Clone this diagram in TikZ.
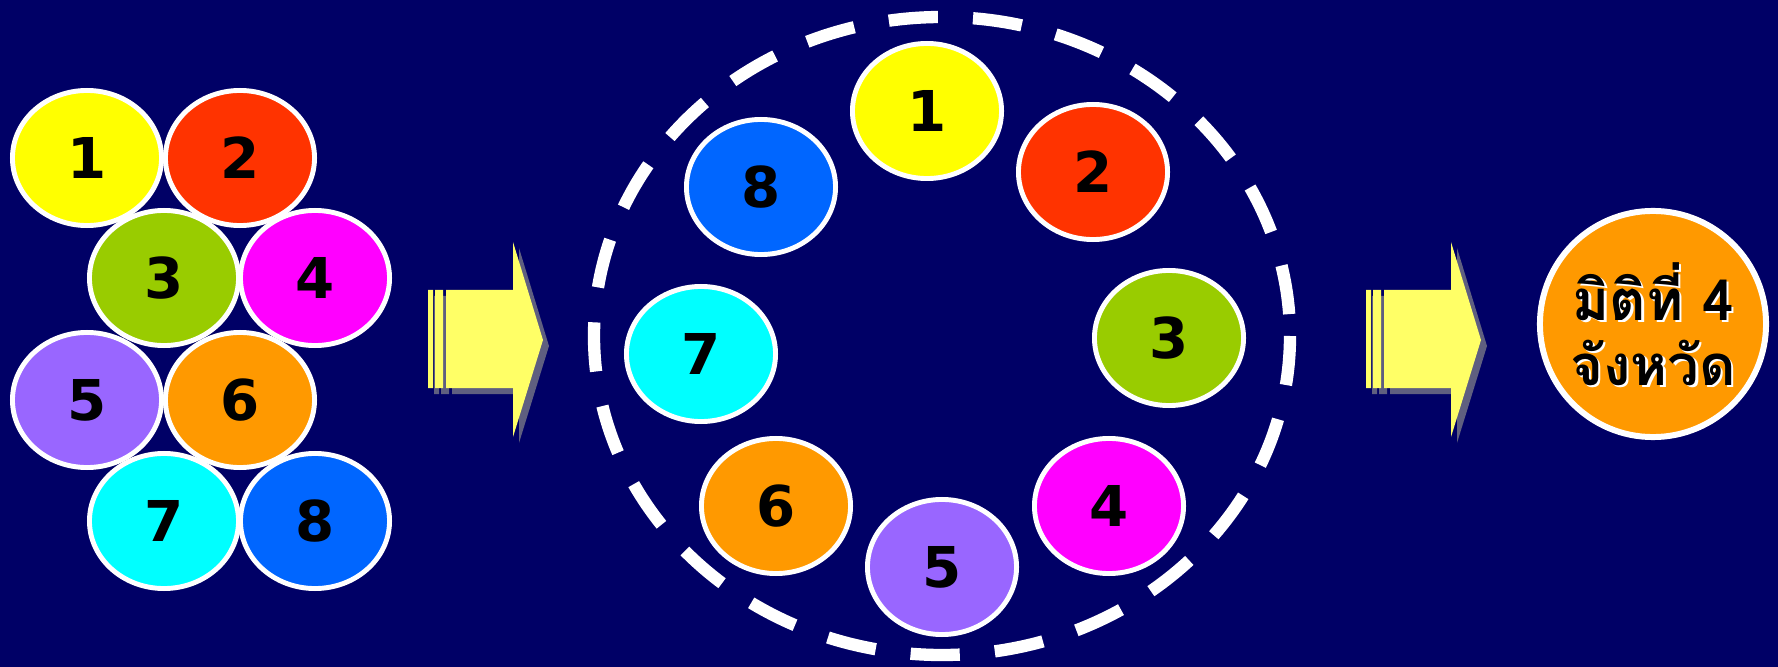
\documentclass[tikz,border=0pt]{standalone}
\usepackage{fontspec}
\setmainfont{DejaVu Sans}
\newfontfamily\thaifont[Script=Thai]{Loma}
\usepackage{tikz}
\usetikzlibrary{shapes.geometric,positioning}

\definecolor{bgnavy}{HTML}{000066}
\definecolor{cyellow}{HTML}{FFFF00}
\definecolor{cred}{HTML}{FF3300}
\definecolor{cgreen}{HTML}{99CC00}
\definecolor{cmagenta}{HTML}{FF00FF}
\definecolor{cpurple}{HTML}{9966FF}
\definecolor{corange}{HTML}{FF9900}
\definecolor{ccyan}{HTML}{00FFFF}
\definecolor{cblue}{HTML}{0066FF}
\definecolor{arrowfill}{HTML}{FFFF66}
\definecolor{arrowshade}{HTML}{5F5F80}

\begin{document}
\begin{tikzpicture}[
    x=0.01cm, y=-0.01cm,
    ball/.style={ellipse, draw=white, line width=1.4pt, minimum width=1.49cm, minimum height=1.35cm, inner sep=0pt, font=\bfseries\fontsize{16}{16}\selectfont},
    ring/.style={draw=white, line width=3.5pt, dash pattern=on 14pt off 10pt},
    thaitext/.style={align=center, font=\thaifont\bfseries\fontsize{16}{18.5}\selectfont}
]
% Background
\fill[bgnavy] (0,0) rectangle (1778,667);

% Loose group
\node[ball, fill=cyellow]  (l1) at (87,158) {1};
\node[ball, fill=cred]     (l2) at (240,158) {2};
\node[ball, fill=cgreen]   (l3) at (164,278) {3};
\node[ball, fill=cmagenta] (l4) at (315,278) {4};
\node[ball, fill=cpurple]  (l5) at (87,400) {5};
\node[ball, fill=corange]  (l6) at (240,400) {6};
\node[ball, fill=ccyan]    (l7) at (164,521) {7};
\node[ball, fill=cblue]    (l8) at (315,521) {8};

% First arrow
\fill[arrowshade, shift={(6,6)}] (428,290) rectangle (433,388) (435,290) rectangle (443,388)
    (446,290) -- (513,290) -- (513,242) -- (543,340) -- (513,437) -- (513,388) -- (446,388) -- cycle;
\fill[arrowfill] (428,290) rectangle (433,388) (435,290) rectangle (443,388)
    (446,290) -- (513,290) -- (513,242) -- (543,340) -- (513,437) -- (513,388) -- (446,388) -- cycle;

% Ring
\coordinate (hub) at (942,336);
\draw[ring] (hub) ellipse [x radius=348, y radius=319];
\node[ball, fill=cyellow]  (c1) at (927,111) {1};
\node[ball, fill=cred]     (c2) at (1093,172) {2};
\node[ball, fill=cgreen]   (c3) at (1169,338) {3};
\node[ball, fill=cmagenta] (c4) at (1109,506) {4};
\node[ball, fill=cpurple]  (c5) at (942,567) {5};
\node[ball, fill=corange]  (c6) at (776,506) {6};
\node[ball, fill=ccyan]    (c7) at (701,354) {7};
\node[ball, fill=cblue]    (c8) at (761,187) {8};

% Second arrow
\begin{scope}[shift={(938,0)}]
\fill[arrowshade, shift={(6,6)}] (428,290) rectangle (433,388) (435,290) rectangle (443,388)
    (446,290) -- (513,290) -- (513,242) -- (543,340) -- (513,437) -- (513,388) -- (446,388) -- cycle;
\fill[arrowfill] (428,290) rectangle (433,388) (435,290) rectangle (443,388)
    (446,290) -- (513,290) -- (513,242) -- (543,340) -- (513,437) -- (513,388) -- (446,388) -- cycle;
\end{scope}

% Result
\node[circle, draw=white, line width=1.7pt, fill=corange, minimum size=2.26cm, inner sep=0pt] (dim) at (1653,324) {};
\node[thaitext, text=white] (dimshade) at ([shift={(2.5,2.5)}]dim.center) {มิติที่ 4\\จังหวัด};
\node[thaitext, text=black] (dimtext) at (dim.center) {มิติที่ 4\\จังหวัด};

\end{tikzpicture}
\end{document}
